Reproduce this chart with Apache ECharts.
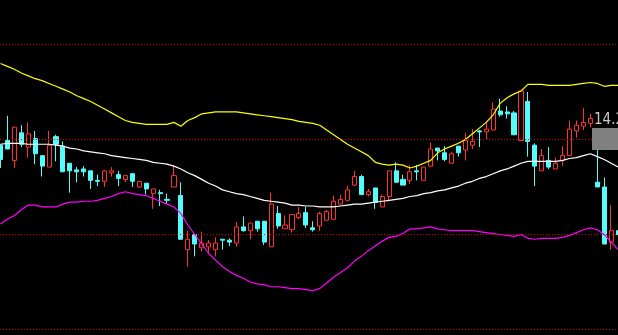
<!DOCTYPE html>
<html>
<head>
<meta charset="utf-8">
<style>
html,body{margin:0;padding:0;background:#000;}
#chart{width:618px;height:335px;}
</style>
<script src="https://cdn.jsdelivr.net/npm/echarts@6/dist/echarts.min.js"></script>
</head>
<body>
<div id="chart"></div>
<script>
// ---- data (prices) ----
const openP = [13.94,13.99,13.78,14.07,13.92,14.01,13.83,13.71,14.03,13.93,
 13.75,13.68,13.69,13.67,13.57,13.56,13.65,13.63,13.58,13.64,
 13.50,13.54,13.43,13.44,13.37,13.50,13.41,12.84,13.00,12.86,
 12.87,12.84,12.95,12.94,12.91,13.08,13.04,13.14,13.14,12.87,
 13.22,13.06,13.05,13.18,13.23,13.07,13.09,13.15,13.16,13.32,
 13.36,13.52,13.61,13.42,13.49,13.29,13.40,13.67,13.58,13.57,
 13.67,13.57,13.72,13.91,13.86,13.75,13.93,13.89,13.94,14.09,
 14.08,14.10,14.30,14.29,14.28,13.99,14.40,13.94,13.67,13.78,
 13.69,13.78,13.83,14.09,14.14,14.17,13.55,13.50,12.92,13.04];
const closeP = [13.79,13.90,14.13,13.95,14.06,13.85,13.72,13.94,13.95,13.66,
 13.67,13.66,13.66,13.57,13.56,13.67,13.67,13.59,13.62,13.56,
 13.56,13.48,13.48,13.43,13.36,13.62,12.95,12.95,12.90,12.91,
 12.91,12.91,12.94,12.92,13.08,13.04,13.12,13.06,12.92,13.32,
 13.09,13.10,13.21,13.22,13.10,13.05,13.22,13.24,13.35,13.37,
 13.47,13.61,13.42,13.45,13.34,13.40,13.67,13.55,13.52,13.66,
 13.66,13.71,13.90,13.88,13.79,13.85,13.86,13.99,13.98,14.08,
 14.11,14.32,14.26,14.27,14.05,14.51,13.98,13.72,13.83,13.71,
 13.75,13.83,14.11,14.15,14.18,14.22,13.50,12.90,13.04,13.00];
const lowP = [13.70,13.90,13.70,13.92,13.81,13.74,13.61,13.71,13.77,13.66,
 13.44,13.55,13.61,13.48,13.51,13.50,13.61,13.51,13.55,13.50,
 13.49,13.42,13.27,13.30,13.32,13.50,12.95,12.66,12.77,12.82,
 12.81,12.77,12.84,12.88,12.87,13.03,12.95,13.03,12.89,12.87,
 13.06,13.06,13.02,13.16,13.07,13.03,13.04,13.15,13.16,13.31,
 13.36,13.51,13.42,13.40,13.27,13.29,13.35,13.55,13.52,13.53,
 13.57,13.57,13.72,13.78,13.77,13.75,13.82,13.78,13.90,13.92,
 14.00,14.10,14.24,14.22,14.05,13.99,13.82,13.51,13.67,13.69,
 13.69,13.72,13.83,14.02,14.10,14.13,13.50,12.90,12.84,13.00];
const highP = [13.95,14.25,14.13,14.15,14.18,14.09,13.83,14.09,14.05,13.98,
 13.75,13.71,13.72,13.67,13.63,13.68,13.71,13.67,13.62,13.64,
 13.56,13.54,13.48,13.47,13.43,13.73,13.55,13.04,13.00,13.03,
 12.94,12.97,12.95,12.96,13.13,13.19,13.12,13.14,13.14,13.44,
 13.30,13.20,13.21,13.29,13.29,13.14,13.24,13.26,13.41,13.42,
 13.51,13.67,13.63,13.48,13.49,13.42,13.67,13.76,13.63,13.73,
 13.73,13.71,13.97,13.91,13.93,13.87,13.93,14.07,14.11,14.10,
 14.19,14.39,14.43,14.35,14.30,14.51,14.50,13.96,13.90,13.92,
 13.81,13.93,14.20,14.20,14.33,14.27,13.99,13.60,13.31,13.04];
const upperBand = [14.80,14.77,14.74,14.70,14.67,14.64,14.62,14.59,14.56,14.53,
 14.50,14.46,14.43,14.40,14.36,14.32,14.28,14.24,14.20,14.18,
 14.17,14.16,14.16,14.16,14.16,14.18,14.14,14.20,14.23,14.27,
 14.28,14.29,14.29,14.29,14.29,14.28,14.27,14.26,14.25,14.24,
 14.23,14.22,14.21,14.19,14.18,14.17,14.15,14.10,14.05,14.00,
 13.95,13.91,13.87,13.83,13.76,13.74,13.73,13.74,13.73,13.70,
 13.72,13.75,13.78,13.86,13.90,13.93,13.96,14.00,14.06,14.12,
 14.18,14.26,14.38,14.44,14.48,14.51,14.58,14.58,14.58,14.57,
 14.57,14.57,14.57,14.58,14.59,14.60,14.59,14.56,14.57,14.57];
const middleBand = [13.95,13.96,13.96,13.96,13.95,13.95,13.95,13.95,13.94,13.93,
 13.91,13.90,13.88,13.87,13.86,13.85,13.83,13.82,13.81,13.80,
 13.79,13.78,13.76,13.75,13.74,13.72,13.69,13.65,13.62,13.58,
 13.54,13.51,13.47,13.45,13.43,13.42,13.40,13.38,13.36,13.35,
 13.34,13.33,13.31,13.31,13.30,13.30,13.29,13.29,13.29,13.30,
 13.31,13.32,13.32,13.33,13.34,13.35,13.36,13.37,13.38,13.40,
 13.41,13.43,13.44,13.46,13.47,13.49,13.51,13.54,13.56,13.59,
 13.61,13.64,13.67,13.69,13.72,13.75,13.77,13.77,13.77,13.77,
 13.77,13.78,13.80,13.81,13.83,13.85,13.82,13.79,13.75,13.71];
const lowerBand = [13.11,13.16,13.20,13.26,13.31,13.31,13.29,13.29,13.29,13.32,
 13.34,13.34,13.35,13.35,13.36,13.38,13.40,13.43,13.45,13.43,
 13.42,13.41,13.38,13.35,13.32,13.29,13.22,13.10,13.00,12.90,
 12.80,12.73,12.66,12.61,12.57,12.54,12.50,12.48,12.47,12.45,
 12.45,12.44,12.43,12.43,12.42,12.41,12.43,12.49,12.55,12.60,
 12.65,12.72,12.77,12.83,12.88,12.93,12.97,12.98,13.01,13.06,
 13.06,13.07,13.08,13.06,13.05,13.04,13.04,13.04,13.04,13.03,
 13.02,13.01,13.00,12.99,12.98,13.00,12.96,12.95,12.96,12.96,
 12.96,12.97,12.99,13.02,13.05,13.07,13.05,13.00,12.92,12.84];
const gridLevels = [12, 13, 14, 15];
const priceLabel = '14.20';
const categories = openP.map((_, i) => 'D' + (i + 1));

// ---- chart ----
const candles = openP.map((o, i) => [o, closeP[i], lowP[i], highP[i]]);
const chart = echarts.init(document.getElementById('chart'), null, {renderer: 'canvas'});
chart.setOption({
  animation: false,
  backgroundColor: '#000000',
  grid: {left: -3, right: -3.6, top: 0, bottom: 0, containLabel: false, outerBoundsMode: 'none'},
  xAxis: {
    type: 'category', data: categories, boundaryGap: true,
    axisLine: {show: false}, axisTick: {show: false}, axisLabel: {show: false}, splitLine: {show: false}
  },
  yAxis: {
    type: 'value', min: 11.9421, max: 15.4684, scale: true,
    axisLine: {show: false}, axisTick: {show: false}, axisLabel: {show: false}, splitLine: {show: false}
  },
  series: [
    {
      type: 'candlestick', data: candles, barWidth: 4.6, z: 2,
      itemStyle: {color: '#000000', color0: '#54fcfc', borderColor: '#ff3232', borderColor0: '#54fcfc', borderWidth: 1},
      markLine: {
        silent: true, symbol: ['none', 'none'], label: {show: false},
        lineStyle: {color: '#e00000', type: [1, 2], width: 1},
        data: gridLevels.map(v => ({yAxis: v}))
      }
    },
    {type: 'line', data: upperBand, showSymbol: false, z: 3, lineStyle: {color: '#ffff00', width: 1.2}},
    {type: 'line', data: middleBand, showSymbol: false, z: 3, lineStyle: {color: '#ffffff', width: 1.2}},
    {type: 'line', data: lowerBand, showSymbol: false, z: 3, lineStyle: {color: '#ff00ff', width: 1.2}}
  ],
  graphic: [
    {type: 'rect', z: 100, shape: {x: 592, y: 128, width: 26, height: 22}, style: {fill: '#808080'}},
    {type: 'text', z: 100, x: 594, y: 120, style: {text: priceLabel, fill: '#c8c8c8', font: '15px "Liberation Sans Narrow", "DejaVu Sans Condensed", sans-serif', verticalAlign: 'middle', textVerticalAlign: 'middle'}}
  ]
});
</script>
</body>
</html>
